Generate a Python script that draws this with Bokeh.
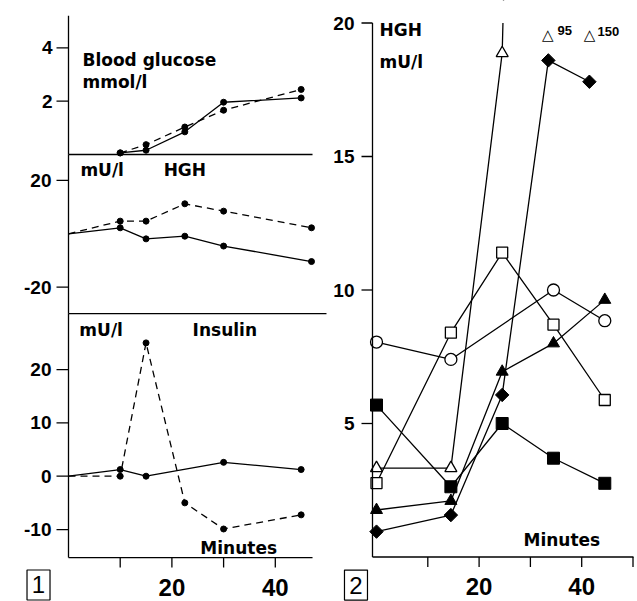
import numpy as np
from bokeh.plotting import figure
from bokeh.models import Range1d
from bokeh.core.properties import value
from bokeh.embed import file_html
from bokeh.resources import INLINE

# ---------------- Figure 1 (left) data ----------------
glucose_t = [10, 15, 22.5, 30, 45]
glucose_solid = [0.06, 0.16, 0.85, 1.96, 2.12]
glucose_dashed = [0.06, 0.37, 1.03, 1.66, 2.44]

hgh1_t = [0, 10, 15, 22.5, 30, 47]
hgh1_solid = [0, 2.25, -1.9, -0.9, -4.6, -10.4]
hgh1_dashed = [0, 4.75, 4.75, 11.25, 8.5, 2.25]

ins_solid_t = [0, 10, 15, 30, 45]
ins_solid = [0, 1.25, 0, 2.6, 1.25]
ins_dashed_t = [0, 10, 15, 22.5, 30, 45]
ins_dashed = [0, 0, 25.0, -5.0, -9.9, -7.25]

left_x_ticks = [10, 20, 30, 40]
left_x_labels = ["", "20", "", "40"]
glucose_ticks = [2, 4]
glucose_labels = ["2", "4"]
hgh1_ticks = [-20, 20]
hgh1_labels = ["-20", "20"]
ins_ticks = [-10, 0, 10, 20]
ins_labels = ["-10", "0", "10", "20"]

# ---------------- Figure 2 (right) data ----------------
circle_t = [0, 14.5, 34.5, 44.5]
circle_v = [8.05, 7.4, 10.0, 8.85]
osq_t = [0, 14.5, 24.5, 34.5, 44.5]
osq_v = [2.77, 8.4, 11.4, 8.7, 5.88]
otri_t = [0, 14.5, 24.5, 34.5, 44.5]
otri_v = [3.33, 3.33, 18.87, 95, 150]
ftri_t = [0, 14.5, 24.5, 34.5, 44.5]
ftri_v = [1.76, 2.1, 6.94, 8.0, 9.63]
fsq_t = [0, 14.5, 24.5, 34.5, 44.5]
fsq_v = [5.69, 2.63, 5.0, 3.7, 2.76]
dia_t = [0, 14.5, 24.5, 33.5, 41.5]
dia_v = [0.95, 1.57, 6.07, 18.6, 17.8]
offchart_labels = ["95", "150"]

right_x_ticks = [10, 20, 30, 40, 50]
right_x_labels = ["", "20", "", "40", ""]
right_y_ticks = [5, 10, 15, 20]
right_y_labels = ["5", "10", "15", "20"]

# ---------------- layout (pixel geometry of the page) ----------------
W, H = 637, 601


def xr_from(zero_px, px_per_unit):
    return Range1d(-zero_px / px_per_unit, (W - zero_px) / px_per_unit)


def yr_from(zero_px, px_per_unit):
    return Range1d(-(H - zero_px) / px_per_unit, zero_px / px_per_unit)


TICK_FONT = "Liberation Sans"
WORD_FONT = "DejaVu Sans"
LW = 1.3
DASH = "7 5"

p = figure(width=W, height=H, output_backend="svg", toolbar_location=None,
           x_range=xr_from(68, 5.17), y_range=yr_from(475.7, 5.333),
           min_border=0, min_border_left=0, min_border_right=0,
           min_border_top=0, min_border_bottom=0,
           x_axis_location=None, y_axis_location=None)
p.extra_x_ranges = {"r": xr_from(376, 5.13)}
p.extra_y_ranges = {"glu": yr_from(154, 26.67), "hgh": yr_from(233.3, 2.667),
                    "r": yr_from(556.5, 26.7)}
p.outline_line_color = None
p.grid.visible = False
p.background_fill_color = "white"
p.border_fill_color = "white"

# panel limits in each panel's own units
glu_top = 5.2
hgh_top, hgh_bottom = 29.7, -29.9
ins_top, ins_bottom = 30.5, -15.25
left_end_short, left_end_long = 47.2, 49.9
r_axis_x, r_top, r_end = -0.78, 20.0, 50.1


def seg(x0, y0, x1, y1, xn="default", yn="default"):
    p.segment(x0=[x0], y0=[y0], x1=[x1], y1=[y1], line_color="black", line_width=LW,
              x_range_name=xn, y_range_name=yn)


def ticks(xs, ys, length, angle, xn="default", yn="default"):
    p.ray(x=xs, y=ys, length=length, length_units="screen", angle=angle,
          line_color="black", line_width=LW, x_range_name=xn, y_range_name=yn)


def texts(xs, ys, labels, size, font=TICK_FONT, style="bold", align="center",
          xoff=0, yoff=0, xn="default", yn="default"):
    p.text(x=xs, y=ys, text=labels, text_font=value(font), text_font_style=style,
           text_font_size=size, text_align=align, text_baseline="middle",
           text_color="black", x_offset=xoff, y_offset=yoff,
           x_range_name=xn, y_range_name=yn)


def words(x, y, label, size="17px", xn="default", yn="default"):
    texts([x], [y], [label], size, font=WORD_FONT, align="left", xn=xn, yn=yn)


# ======== left figure 1: data ========
p.line(glucose_t, glucose_solid, line_color="black", line_width=LW, y_range_name="glu")
p.line(glucose_t, glucose_dashed, line_color="black", line_width=LW, line_dash=DASH,
       y_range_name="glu")
p.scatter(glucose_t, glucose_solid, size=6, color="black", y_range_name="glu")
p.scatter(glucose_t, glucose_dashed, size=6, color="black", y_range_name="glu")

p.line(hgh1_t, hgh1_solid, line_color="black", line_width=LW, y_range_name="hgh")
p.line(hgh1_t, hgh1_dashed, line_color="black", line_width=LW, line_dash=DASH,
       y_range_name="hgh")
p.scatter(hgh1_t[1:], hgh1_solid[1:], size=6, color="black", y_range_name="hgh")
p.scatter(hgh1_t[1:], hgh1_dashed[1:], size=6, color="black", y_range_name="hgh")

p.line(ins_solid_t, ins_solid, line_color="black", line_width=LW)
p.line(ins_dashed_t, ins_dashed, line_color="black", line_width=LW, line_dash=DASH)
p.scatter(ins_solid_t[1:], ins_solid[1:], size=6, color="black")
p.scatter(ins_dashed_t[1:], ins_dashed[1:], size=6, color="black")

# ======== right figure 2: data ========
R = dict(x_range_name="r", y_range_name="r")
for t, v in [(circle_t, circle_v), (osq_t, osq_v), (otri_t, otri_v),
             (ftri_t, ftri_v), (fsq_t, fsq_v), (dia_t, dia_v)]:
    p.line(t, v, line_color="black", line_width=LW, **R)

p.scatter(circle_t, circle_v, marker="circle", size=12, fill_color="white",
          line_color="black", line_width=LW, **R)
p.scatter(osq_t, osq_v, marker="square", size=11, fill_color="white",
          line_color="black", line_width=LW, **R)
p.scatter(otri_t, otri_v, marker="triangle", size=12, fill_color="white",
          line_color="black", line_width=LW, **R)
p.scatter(ftri_t, ftri_v, marker="triangle", size=12, color="black", **R)
p.scatter(fsq_t, fsq_v, marker="square", size=12, color="black", **R)
p.scatter(dia_t, dia_v, marker="square", angle=np.pi / 4, size=9.5, color="black", **R)

# values beyond the top of panel 2 are hidden above its 20 line
rr = p.extra_x_ranges["r"]
p.quad(left=[r_axis_x], right=[rr.end], bottom=[r_top], top=[p.extra_y_ranges["r"].end],
       fill_color="white", line_color=None, **R)

# ======== left axes ========
seg(0, 0, 0, glu_top, yn="glu")
seg(0, hgh_bottom, 0, hgh_top, yn="hgh")
seg(0, ins_bottom, 0, ins_top)
seg(0, 0, left_end_short, 0, yn="glu")
seg(0, hgh_bottom, left_end_long, hgh_bottom, yn="hgh")
seg(0, ins_bottom, left_end_short, ins_bottom)

ticks([0] * 2, glucose_ticks, 12, np.pi, yn="glu")
ticks([0] * 2, hgh1_ticks, 12, np.pi, yn="hgh")
ticks([0] * 4, ins_ticks, 12, np.pi)
ticks(left_x_ticks, [ins_bottom] * 4, 10, -np.pi / 2)

texts([0] * 2, glucose_ticks, glucose_labels, "19px", align="right", xoff=-16, yn="glu")
texts([0] * 2, hgh1_ticks, hgh1_labels, "19px", align="right", xoff=-17, yn="hgh")
texts([0] * 4, ins_ticks, ins_labels, "19px", align="right", xoff=-17)
texts(left_x_ticks, [ins_bottom] * 4, left_x_labels, "24px", yoff=29.5)

words(2.7, 3.525, "Blood glucose", yn="glu")
words(2.7, 2.72, "mmol/l", yn="glu")
words(2.3, 24.1, "mU/l", yn="hgh")
words(18.4, 24.1, "HGH", yn="hgh")
words(2.1, 27.5, "mU/l")
words(24.0, 27.5, "Insulin")
words(25.5, -13.5, "Minutes")

# panel number 1
p.rect(x=[-5.8], y=[-20.4], width=23, height=30, width_units="screen",
       height_units="screen", fill_color="white", line_color="black", line_width=1.2)
texts([-5.8], [-20.4], ["1"], "24px", style="normal")

# ======== right axes ========
seg(r_axis_x, 0, r_axis_x, r_top, **{"xn": "r", "yn": "r"})
seg(r_axis_x, 0, r_end, 0, xn="r", yn="r")
ticks([r_axis_x] * 4, right_y_ticks, 11, np.pi, **{"xn": "r", "yn": "r"})
ticks(right_x_ticks, [0] * 5, 10, -np.pi / 2, xn="r", yn="r")
texts([r_axis_x] * 4, right_y_ticks, right_y_labels, "19px", align="right", xoff=-18,
      xn="r", yn="r")
texts(right_x_ticks, [0] * 5, right_x_labels, "24px", yoff=29.5, xn="r", yn="r")

words(0.6, 19.75, "HGH", xn="r", yn="r")
words(0.6, 18.53, "mU/l", xn="r", yn="r")
words(28.65, 0.62, "Minutes", xn="r", yn="r")

# off-chart values of the open-triangle series
texts([33.4, 41.5], [19.55, 19.55], ["\u25b3", "\u25b3"], "15px", font=WORD_FONT,
      style="normal", xn="r", yn="r")
texts([35.3, 43.1], [19.72, 19.68], offchart_labels, "13px", align="left",
      xn="r", yn="r")

# panel number 2
p.rect(x=[-4.0], y=[-1.05], width=23, height=30, width_units="screen",
       height_units="screen", fill_color="white", line_color="black", line_width=1.2, **R)
texts([-4.0], [-1.05], ["2"], "24px", style="normal", xn="r", yn="r")

open("out.html", "w").write(file_html(p, INLINE))
